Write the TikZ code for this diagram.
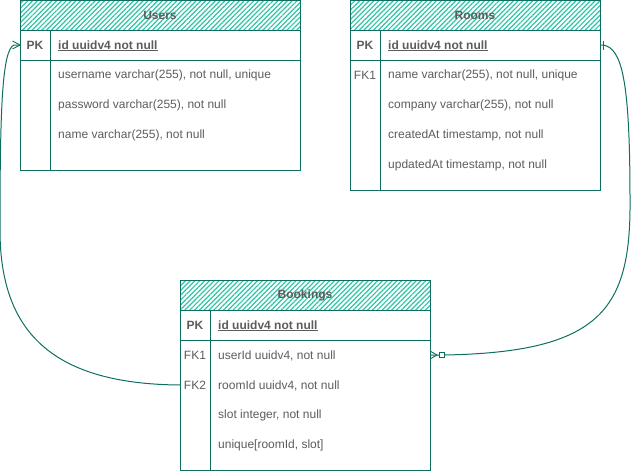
\documentclass[tikz,border=0pt]{standalone}
\usepackage{fontspec}
\setmainfont{Liberation Sans}
\usetikzlibrary{patterns.meta}
\definecolor{ers}{HTML}{0E6E60}
\definecolor{erf}{HTML}{2EC4A6}
\definecolor{ert}{HTML}{5C5C5C}
\begin{document}
\begin{tikzpicture}[x=1pt,y=-1pt,
  tbl/.style={draw=ers,line width=1pt},
  hdr/.style={pattern={Lines[angle=45,distance=3.4pt,line width=1.2pt]},pattern color=erf},
  hdrtext/.style={font=\fontsize{12}{14}\selectfont\bfseries,text=ert,inner sep=0pt,yshift=-0.8pt},
  keytext/.style={font=\fontsize{12}{14}\selectfont,text=ert,inner sep=0pt,yshift=-0.8pt},
  pktext/.style={font=\fontsize{12}{14}\selectfont\bfseries,text=ert,inner sep=0pt,yshift=-0.8pt},
  rowtext/.style={font=\fontsize{12}{14}\selectfont,text=ert,inner sep=0pt,anchor=west,yshift=-0.8pt},
  pkrow/.style={font=\fontsize{12}{14}\selectfont\bfseries,text=ert,inner sep=0pt,anchor=west,yshift=-0.8pt},
  conn/.style={draw=ers,line width=1pt},
  ermark/.style={draw=ers,line width=0.9pt}
]
\useasboundingbox (0,0) rectangle (632,471);

% ---------- Users ----------
\fill[hdr] (20,0) rectangle (300,30);
\draw[tbl] (20,0) rectangle (300,170);
\draw[tbl] (20,30) -- (300,30);
\draw[tbl] (20,60) -- (300,60);
\draw[tbl] (50,30) -- (50,170);
\node[hdrtext] (usersH) at (160,15) {Users};
\node[pktext] (usersPK) at (35,45) {PK};
\node[pkrow] (usersId) at (58,45) {\underline{id uuidv4 not null}};
\node[rowtext] (usersR1) at (58,75) {username varchar(255), not null, unique};
\node[rowtext] (usersR2) at (58,105) {password varchar(255), not null};
\node[rowtext] (usersR3) at (58,135) {name varchar(255), not null};

% ---------- Rooms ----------
\fill[hdr] (350,0) rectangle (600,30);
\draw[tbl] (350,0) rectangle (600,190);
\draw[tbl] (350,30) -- (600,30);
\draw[tbl] (350,60) -- (600,60);
\draw[tbl] (380,30) -- (380,190);
\node[hdrtext] (roomsH) at (475,15) {Rooms};
\node[pktext] (roomsPK) at (365,45) {PK};
\node[keytext] (roomsFK) at (365,75) {FK1};
\node[pkrow] (roomsId) at (388,45) {\underline{id uuidv4 not null}};
\node[rowtext] (roomsR1) at (388,75) {name varchar(255), not null, unique};
\node[rowtext] (roomsR2) at (388,105) {company varchar(255), not null};
\node[rowtext] (roomsR3) at (388,135) {createdAt timestamp, not null};
\node[rowtext] (roomsR4) at (388,165) {updatedAt timestamp, not null};

% ---------- Bookings ----------
\fill[hdr] (180,280) rectangle (430,310);
\draw[tbl] (180,280) rectangle (430,470);
\draw[tbl] (180,310) -- (430,310);
\draw[tbl] (180,340) -- (430,340);
\draw[tbl] (210,310) -- (210,470);
\node[hdrtext] (bookH) at (305,295) {Bookings};
\node[pktext] (bookPK) at (195,325) {PK};
\node[keytext] (bookFK1) at (195,355) {FK1};
\node[keytext] (bookFK2) at (195,385) {FK2};
\node[pkrow] (bookId) at (218,325) {\underline{id uuidv4 not null}};
\node[rowtext] (bookR1) at (218,355) {userId uuidv4, not null};
\node[rowtext] (bookR2) at (218,385) {roomId uuidv4, not null};
\node[rowtext] (bookR3) at (218,415) {slot integer, not null};
\node[rowtext] (bookR4) at (218,445) {unique[roomId, slot]};

% ---------- connection points ----------
\coordinate (usersIn) at (20,45);
\coordinate (bookOutL) at (180,385);
\coordinate (roomsIn) at (600,45);
\coordinate (bookOutR) at (430,355);

% Bookings.FK2 -> Users.PK
\draw[conn] (bookOutL) .. controls (50,384) and (0,330) .. (0,230)
  .. controls (0,110) and (2,50) .. (14,45) -- (usersIn);
\draw[ermark] (12.5,41) -- (usersIn) -- (12.5,49);

% Bookings.FK1 -> Rooms.PK
\draw[conn] (bookOutR) -- (439,355) (445,355) .. controls (600,352) and (631,310) .. (630,200)
  .. controls (630,80) and (622,48) .. (603,45) -- (roomsIn);
\draw[ermark] (430,351) -- (437,355) -- (430,359);
\draw[ermark] (439.5,352.5) rectangle (444.5,357.5);
\draw[ermark] (603,41) -- (603,50);
\end{tikzpicture}
\end{document}
